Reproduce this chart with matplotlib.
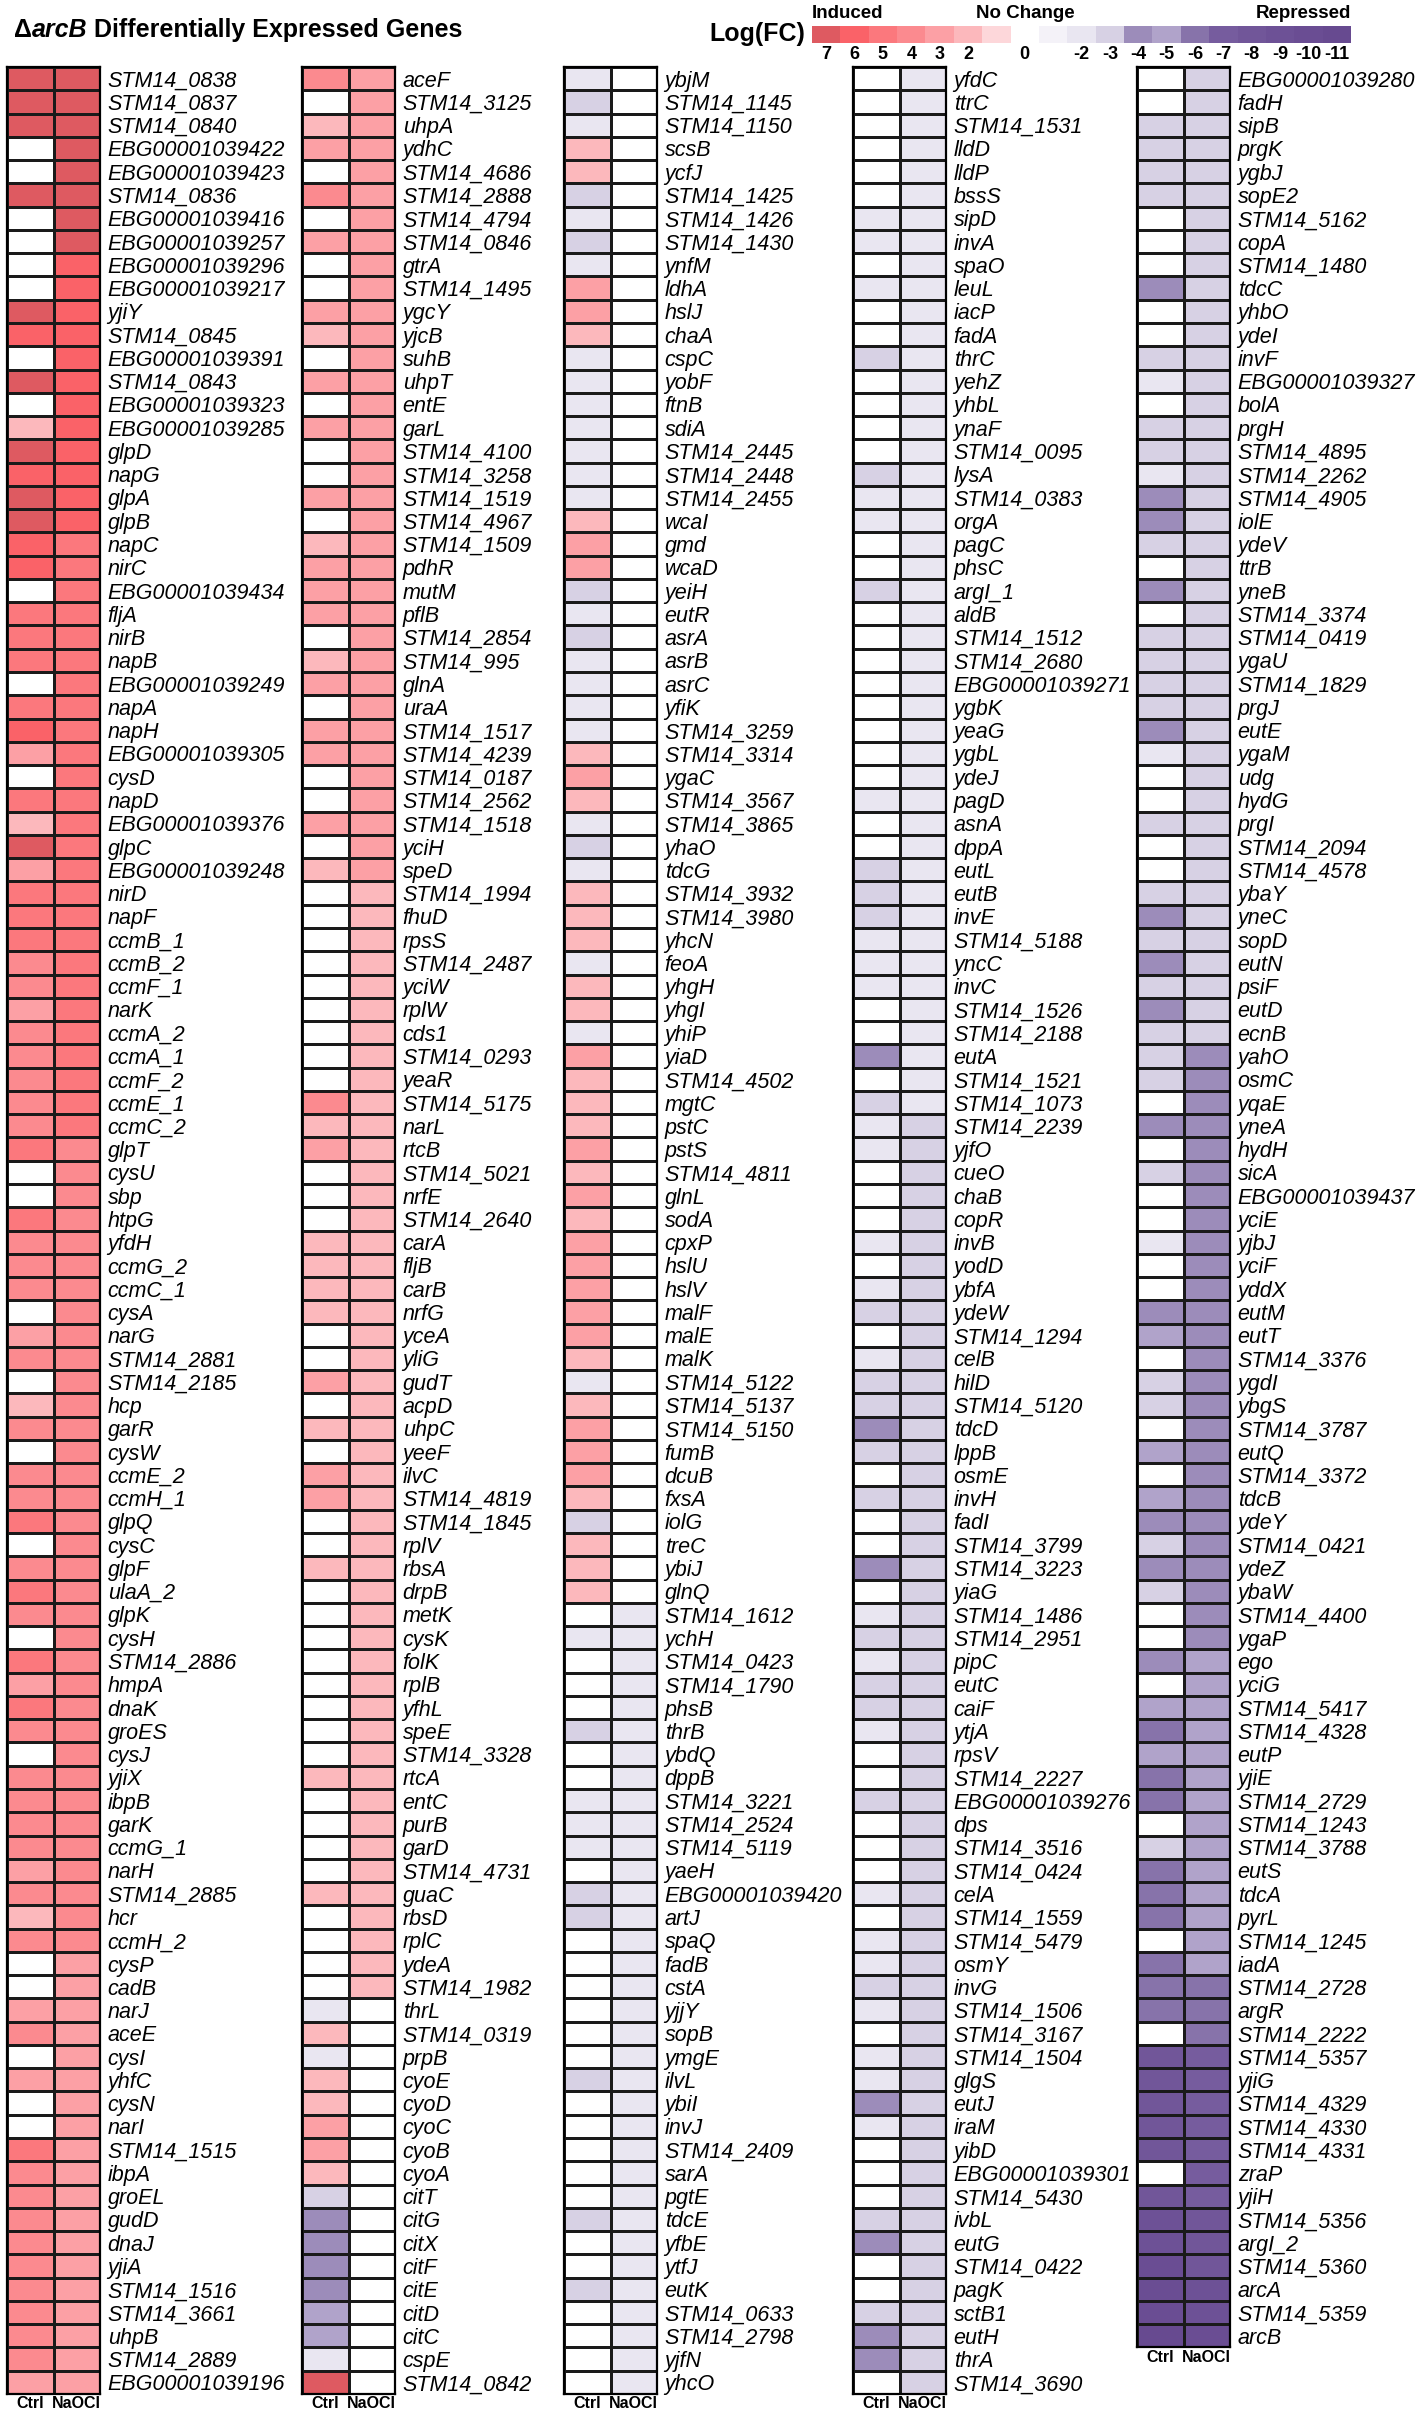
import numpy as np
import matplotlib
matplotlib.use("Agg")
import matplotlib.pyplot as plt
from matplotlib.colors import ListedColormap, BoundaryNorm

plt.rcParams["font.family"] = ["Liberation Sans", "DejaVu Sans"]

W, H, DPI = 1421, 2424, 100

# ---- colour scale (log fold change, binned to integers) ----
levels = [7, 6, 5, 4, 3, 2, 1, 0, -1, -2, -3, -4, -5, -6, -7, -8, -9, -10, -11]
level_colors = ["#de5a61", "#fa6268", "#fb787d", "#fb8a8f", "#fca0a5", "#fcb8bc",
                "#fdd7da", "#ffffff", "#f4f2f8", "#e9e6f1", "#d7d1e4", "#9c8cba",
                "#b0a3ca", "#8773aa", "#765c9e", "#715699", "#6d5196", "#6a4d93",
                "#674a90"]
legend_labels = ["7", "6", "5", "4", "3", "2", "", "0", "", "-2", "-3", "-4", "-5",
                 "-6", "-7", "-8", "-9", "-10", "-11"]

# ---- data: five panels of genes, Ctrl and NaOCl log(FC) ----
genes1 = ["STM14_0838", "STM14_0837", "STM14_0840", "EBG00001039422", "EBG00001039423",
          "STM14_0836", "EBG00001039416", "EBG00001039257", "EBG00001039296", "EBG00001039217",
          "yjiY", "STM14_0845", "EBG00001039391", "STM14_0843", "EBG00001039323",
          "EBG00001039285", "glpD", "napG", "glpA", "glpB", "napC", "nirC", "EBG00001039434",
          "fljA", "nirB", "napB", "EBG00001039249", "napA", "napH", "EBG00001039305", "cysD",
          "napD", "EBG00001039376", "glpC", "EBG00001039248", "nirD", "napF", "ccmB_1",
          "ccmB_2", "ccmF_1", "narK", "ccmA_2", "ccmA_1", "ccmF_2", "ccmE_1", "ccmC_2", "glpT",
          "cysU", "sbp", "htpG", "yfdH", "ccmG_2", "ccmC_1", "cysA", "narG", "STM14_2881",
          "STM14_2185", "hcp", "garR", "cysW", "ccmE_2", "ccmH_1", "glpQ", "cysC", "glpF",
          "ulaA_2", "glpK", "cysH", "STM14_2886", "hmpA", "dnaK", "groES", "cysJ", "yjiX",
          "ibpB", "garK", "ccmG_1", "narH", "STM14_2885", "hcr", "ccmH_2", "cysP", "cadB",
          "narJ", "aceE", "cysI", "yhfC", "cysN", "narI", "STM14_1515", "ibpA", "groEL",
          "gudD", "dnaJ", "yjiA", "STM14_1516", "STM14_3661", "uhpB", "STM14_2889",
          "EBG00001039196"]
ctrl1 = [7, 7, 7, 0, 0, 7, 0, 0, 0, 0,
         7, 6, 0, 7, 0, 2, 7, 6, 7, 7,
         6, 6, 0, 5, 5, 5, 0, 5, 6, 3,
         0, 5, 2, 7, 3, 5, 5, 5, 4, 4,
         3, 4, 4, 4, 4, 4, 5, 0, 0, 5,
         4, 4, 4, 0, 3, 4, 0, 2, 4, 0,
         4, 4, 5, 0, 4, 5, 4, 0, 5, 3,
         5, 4, 0, 4, 4, 4, 4, 3, 4, 2,
         4, 0, 0, 3, 4, 0, 3, 0, 0, 5,
         4, 4, 4, 4, 4, 4, 4, 4, 4, 3]
naocl1 = [7, 7, 7, 7, 7, 7, 7, 7, 6, 6,
          6, 6, 6, 6, 6, 6, 6, 6, 6, 6,
          5, 5, 5, 5, 5, 5, 5, 5, 5, 5,
          5, 5, 5, 5, 5, 5, 5, 5, 5, 5,
          5, 5, 5, 5, 5, 5, 4, 4, 4, 4,
          4, 4, 4, 4, 4, 4, 4, 4, 4, 4,
          4, 4, 4, 4, 4, 4, 4, 4, 4, 4,
          4, 4, 4, 4, 4, 4, 4, 4, 4, 4,
          4, 3, 3, 3, 3, 3, 3, 3, 3, 3,
          3, 3, 3, 3, 3, 3, 3, 3, 3, 3]

genes2 = ["aceF", "STM14_3125", "uhpA", "ydhC", "STM14_4686", "STM14_2888", "STM14_4794",
          "STM14_0846", "gtrA", "STM14_1495", "ygcY", "yjcB", "suhB", "uhpT", "entE", "garL",
          "STM14_4100", "STM14_3258", "STM14_1519", "STM14_4967", "STM14_1509", "pdhR",
          "mutM", "pflB", "STM14_2854", "STM14_995", "glnA", "uraA", "STM14_1517",
          "STM14_4239", "STM14_0187", "STM14_2562", "STM14_1518", "yciH", "speD",
          "STM14_1994", "fhuD", "rpsS", "STM14_2487", "yciW", "rplW", "cds1", "STM14_0293",
          "yeaR", "STM14_5175", "narL", "rtcB", "STM14_5021", "nrfE", "STM14_2640", "carA",
          "fljB", "carB", "nrfG", "yceA", "yliG", "gudT", "acpD", "uhpC", "yeeF", "ilvC",
          "STM14_4819", "STM14_1845", "rplV", "rbsA", "drpB", "metK", "cysK", "folK", "rplB",
          "yfhL", "speE", "STM14_3328", "rtcA", "entC", "purB", "garD", "STM14_4731", "guaC",
          "rbsD", "rplC", "ydeA", "STM14_1982", "thrL", "STM14_0319", "prpB", "cyoE", "cyoD",
          "cyoC", "cyoB", "cyoA", "citT", "citG", "citX", "citF", "citE", "citD", "citC",
          "cspE", "STM14_0842"]
ctrl2 = [4, 0, 2, 3, 0, 4, 0, 3, 0, 0,
         3, 2, 0, 3, 0, 3, 0, 0, 3, 0,
         2, 3, 3, 3, 0, 2, 3, 0, 3, 3,
         0, 0, 3, 0, 2, 0, 0, 0, 0, 0,
         0, 0, 0, 0, 4, 2, 3, 0, 0, 0,
         2, 2, 2, 2, 0, 0, 3, 0, 2, 0,
         3, 3, 0, 0, 2, 0, 0, 0, 0, 0,
         0, 0, 0, 2, 0, 0, 0, 0, 2, 0,
         0, 0, 0, -2, 2, -2, 2, 2, 3, 3,
         2, -3, -4, -4, -4, -4, -5, -5, -2, 7]
naocl2 = [3, 3, 3, 3, 3, 3, 3, 3, 3, 3,
          3, 3, 3, 3, 3, 3, 3, 3, 3, 3,
          3, 3, 3, 3, 3, 3, 3, 3, 3, 3,
          3, 3, 3, 3, 3, 2, 2, 2, 2, 2,
          2, 2, 2, 2, 2, 2, 2, 2, 2, 2,
          2, 2, 2, 2, 2, 2, 2, 2, 2, 2,
          2, 2, 2, 2, 2, 2, 2, 2, 2, 2,
          2, 2, 2, 2, 2, 2, 2, 2, 2, 2,
          2, 2, 2, 0, 0, 0, 0, 0, 0, 0,
          0, 0, 0, 0, 0, 0, 0, 0, 0, 0]

genes3 = ["ybjM", "STM14_1145", "STM14_1150", "scsB", "ycfJ", "STM14_1425", "STM14_1426",
          "STM14_1430", "ynfM", "ldhA", "hslJ", "chaA", "cspC", "yobF", "ftnB", "sdiA",
          "STM14_2445", "STM14_2448", "STM14_2455", "wcaI", "gmd", "wcaD", "yeiH", "eutR",
          "asrA", "asrB", "asrC", "yfiK", "STM14_3259", "STM14_3314", "ygaC", "STM14_3567",
          "STM14_3865", "yhaO", "tdcG", "STM14_3932", "STM14_3980", "yhcN", "feoA", "yhgH",
          "yhgI", "yhiP", "yiaD", "STM14_4502", "mgtC", "pstC", "pstS", "STM14_4811", "glnL",
          "sodA", "cpxP", "hslU", "hslV", "malF", "malE", "malK", "STM14_5122", "STM14_5137",
          "STM14_5150", "fumB", "dcuB", "fxsA", "iolG", "treC", "ybiJ", "glnQ", "STM14_1612",
          "ychH", "STM14_0423", "STM14_1790", "phsB", "thrB", "ybdQ", "dppB", "STM14_3221",
          "STM14_2524", "STM14_5119", "yaeH", "EBG00001039420", "artJ", "spaQ", "fadB", "cstA",
          "yjjY", "sopB", "ymgE", "ilvL", "ybiI", "invJ", "STM14_2409", "sarA", "pgtE", "tdcE",
          "yfbE", "ytfJ", "eutK", "STM14_0633", "STM14_2798", "yjfN", "yhcO"]
ctrl3 = [-2, -3, -2, 2, 2, -3, -2, -3, -2, 3,
         3, 2, -2, -2, -2, -2, -2, -2, -2, 2,
         3, 3, -3, -2, -3, -2, -2, -2, -2, 2,
         3, 2, -2, -3, -2, 2, 2, 2, -2, 2,
         2, -2, 3, 2, 2, 2, 3, 2, 3, 2,
         3, 3, 3, 3, 3, 2, -2, 2, 3, 3,
         3, 2, -3, 2, 2, 2, 0, -2, 0, 0,
         0, -3, 0, 0, -2, -2, -2, 0, -3, -3,
         0, 0, 0, 0, 0, 0, -3, 0, 0, 0,
         0, 0, -3, 0, 0, -3, 0, 0, 0, 0]
naocl3 = [0, 0, 0, 0, 0, 0, 0, 0, 0, 0,
          0, 0, 0, 0, 0, 0, 0, 0, 0, 0,
          0, 0, 0, 0, 0, 0, 0, 0, 0, 0,
          0, 0, 0, 0, 0, 0, 0, 0, 0, 0,
          0, 0, 0, 0, 0, 0, 0, 0, 0, 0,
          0, 0, 0, 0, 0, 0, 0, 0, 0, 0,
          0, 0, 0, 0, 0, 0, -2, -2, -2, -2,
          -2, -2, -2, -2, -2, -2, -2, -2, -2, -2,
          -2, -2, -2, -2, -2, -2, -2, -2, -2, -2,
          -2, -2, -2, -2, -2, -2, -2, -2, -2, -2]

genes4 = ["yfdC", "ttrC", "STM14_1531", "lldD", "lldP", "bssS", "sipD", "invA", "spaO", "leuL",
          "iacP", "fadA", "thrC", "yehZ", "yhbL", "ynaF", "STM14_0095", "lysA", "STM14_0383",
          "orgA", "pagC", "phsC", "argI_1", "aldB", "STM14_1512", "STM14_2680",
          "EBG00001039271", "ygbK", "yeaG", "ygbL", "ydeJ", "pagD", "asnA", "dppA", "eutL",
          "eutB", "invE", "STM14_5188", "yncC", "invC", "STM14_1526", "STM14_2188", "eutA",
          "STM14_1521", "STM14_1073", "STM14_2239", "yjfO", "cueO", "chaB", "copR", "invB",
          "yodD", "ybfA", "ydeW", "STM14_1294", "celB", "hilD", "STM14_5120", "tdcD", "lppB",
          "osmE", "invH", "fadI", "STM14_3799", "STM14_3223", "yiaG", "STM14_1486",
          "STM14_2951", "pipC", "eutC", "caiF", "ytjA", "rpsV", "STM14_2227", "EBG00001039276",
          "dps", "STM14_3516", "STM14_0424", "celA", "STM14_1559", "STM14_5479", "osmY", "invG",
          "STM14_1506", "STM14_3167", "STM14_1504", "glgS", "eutJ", "iraM", "yibD",
          "EBG00001039301", "STM14_5430", "ivbL", "eutG", "STM14_0422", "pagK", "sctB1", "eutH",
          "thrA", "STM14_3690"]
ctrl4 = [0, 0, 0, 0, 0, 0, -2, -2, 0, -2,
         0, 0, -3, 0, 0, 0, 0, -3, -2, -2,
         0, 0, -3, 0, 0, 0, 0, 0, 0, 0,
         0, -2, 0, 0, -3, -3, -3, -2, -2, -2,
         0, 0, -4, 0, -3, -2, -2, 0, 0, 0,
         -2, 0, -2, -3, 0, -2, -3, -3, -4, -3,
         0, -3, 0, 0, -4, 0, -2, -3, -2, -3,
         -3, -2, 0, 0, -3, 0, 0, 0, -2, 0,
         -2, -2, -3, -2, 0, -2, -2, -4, -2, 0,
         0, 0, -3, -4, 0, 0, -3, -4, -4, 0]
naocl4 = [-2, -2, -2, -2, -2, -2, -2, -2, -2, -2,
          -2, -2, -2, -2, -2, -2, -2, -2, -2, -2,
          -2, -2, -2, -2, -2, -2, -2, -2, -2, -2,
          -2, -2, -2, -2, -2, -2, -2, -2, -2, -2,
          -2, -2, -2, -2, -2, -3, -3, -3, -3, -3,
          -3, -3, -3, -3, -3, -3, -3, -3, -3, -3,
          -3, -3, -3, -3, -3, -3, -3, -3, -3, -3,
          -3, -3, -3, -3, -3, -3, -3, -3, -3, -3,
          -3, -3, -3, -3, -3, -3, -3, -3, -3, -3,
          -3, -3, -3, -3, -3, -3, -3, -3, -3, -3]

genes5 = ["EBG00001039280", "fadH", "sipB", "prgK", "ygbJ", "sopE2", "STM14_5162", "copA",
          "STM14_1480", "tdcC", "yhbO", "ydeI", "invF", "EBG00001039327", "bolA", "prgH",
          "STM14_4895", "STM14_2262", "STM14_4905", "iolE", "ydeV", "ttrB", "yneB",
          "STM14_3374", "STM14_0419", "ygaU", "STM14_1829", "prgJ", "eutE", "ygaM", "udg",
          "hydG", "prgI", "STM14_2094", "STM14_4578", "ybaY", "yneC", "sopD", "eutN", "psiF",
          "eutD", "ecnB", "yahO", "osmC", "yqaE", "yneA", "hydH", "sicA", "EBG00001039437",
          "yciE", "yjbJ", "yciF", "yddX", "eutM", "eutT", "STM14_3376", "ygdI", "ybgS",
          "STM14_3787", "eutQ", "STM14_3372", "tdcB", "ydeY", "STM14_0421", "ydeZ", "ybaW",
          "STM14_4400", "ygaP", "ego", "yciG", "STM14_5417", "STM14_4328", "eutP", "yjiE",
          "STM14_2729", "STM14_1243", "STM14_3788", "eutS", "tdcA", "pyrL", "STM14_1245",
          "iadA", "STM14_2728", "argR", "STM14_2222", "STM14_5357", "yjiG", "STM14_4329",
          "STM14_4330", "STM14_4331", "zraP", "yjiH", "STM14_5356", "argI_2", "STM14_5360",
          "arcA", "STM14_5359", "arcB"]
ctrl5 = [0, 0, -3, -3, -3, -3, 0, 0, 0, -4,
         0, 0, -3, -2, 0, -3, -3, -2, -4, -4,
         -3, 0, -4, 0, -3, -3, -3, -3, -4, -2,
         0, 0, -3, 0, 0, -3, -4, -3, -4, -3,
         -4, -3, -3, -3, 0, -4, 0, -3, 0, 0,
         -2, 0, 0, -4, -5, 0, -3, -3, 0, -5,
         0, -5, -4, -3, -4, -3, 0, 0, -4, 0,
         -5, -6, -5, -6, -6, 0, -3, -6, -6, -6,
         0, -6, -6, -6, 0, -8, -8, -8, -8, -8,
         0, -8, -9, -9, -10, -10, -10, -11]
naocl5 = [-3, -3, -3, -3, -3, -3, -3, -3, -3, -3,
          -3, -3, -3, -3, -3, -3, -3, -3, -3, -3,
          -3, -3, -3, -3, -3, -3, -3, -3, -3, -3,
          -3, -3, -3, -3, -3, -3, -3, -3, -3, -3,
          -3, -3, -4, -4, -4, -4, -4, -4, -4, -4,
          -4, -4, -4, -4, -4, -4, -4, -4, -4, -4,
          -4, -4, -4, -4, -4, -4, -4, -4, -5, -5,
          -5, -5, -5, -5, -5, -5, -5, -5, -5, -5,
          -5, -5, -6, -6, -6, -7, -7, -7, -7, -7,
          -7, -7, -8, -8, -8, -9, -9, -10]

panels = [(genes1, ctrl1, naocl1), (genes2, ctrl2, naocl2), (genes3, ctrl3, naocl3),
          (genes4, ctrl4, naocl4), (genes5, ctrl5, naocl5)]

# ---- layout (pixels) ----
panel_left = [7, 302, 564, 853, 1137]
cell_w = 46.5
top_px = 67
row_h = 23.27

cmap = ListedColormap(level_colors[::-1])
norm = BoundaryNorm(np.arange(-11.5, 8.5, 1), cmap.N)

fig = plt.figure(figsize=(W / DPI, H / DPI), dpi=DPI)

for left, (genes, ctrl, naocl) in zip(panel_left, panels):
    n = len(genes)
    h = n * row_h
    ax = fig.add_axes([left / W, 1 - (top_px + h) / H, 2 * cell_w / W, h / H])
    values = np.array([ctrl, naocl]).T
    ax.pcolormesh(values, cmap=cmap, norm=norm, edgecolors="#1a1a1a", linewidth=0.9)
    ax.set_xlim(0, 2)
    ax.set_ylim(n, 0)
    ax.set_xticks([0.5, 1.5], ["Ctrl", "NaOCl"], fontweight="bold", fontsize=11.5)
    ax.set_yticks(np.arange(n) + 0.5, genes, fontstyle="italic", fontsize=15.5)
    ax.yaxis.tick_right()
    ax.tick_params(axis="both", length=0)
    ax.tick_params(axis="y", pad=5.5)
    ax.tick_params(axis="x", pad=1.5)
    for s in ax.spines.values():
        s.set_linewidth(1.6)

# ---- colour legend ----
lax = fig.add_axes([812 / W, 1 - 43 / H, 539 / W, 17 / H])
lax.pcolormesh(np.array([levels]), cmap=cmap, norm=norm)
lax.set_xlim(0, len(levels))
lax.set_xticks(np.arange(len(levels)) + 0.5, legend_labels, fontweight="bold", fontsize=13)
lax.set_yticks([])
lax.tick_params(axis="x", length=0, pad=2)
for s in lax.spines.values():
    s.set_visible(False)

fig.text(805 / W, 1 - 34 / H, "Log(FC)", ha="right", va="center", fontsize=18, fontweight="bold")
fig.text(812 / W, 1 - 14 / H, "Induced", ha="left", va="center", fontsize=13.5, fontweight="bold")
fig.text(1025 / W, 1 - 14 / H, "No Change", ha="center", va="center", fontsize=13.5, fontweight="bold")
fig.text(1351 / W, 1 - 14 / H, "Repressed", ha="right", va="center", fontsize=13.5, fontweight="bold")

# ---- title: Delta + italic gene name + rest ----
renderer = fig.canvas.get_renderer()
title_y = 1 - 30 / H
x = 14
for part, style in [("\u0394", "normal"), ("arcB", "italic"), (" Differentially Expressed Genes", "normal")]:
    t = fig.text(x / W, title_y, part, ha="left", va="center", fontsize=18,
                 fontweight="bold", fontstyle=style)
    x = t.get_window_extent(renderer).x1

fig.savefig("out.png", dpi=DPI)
